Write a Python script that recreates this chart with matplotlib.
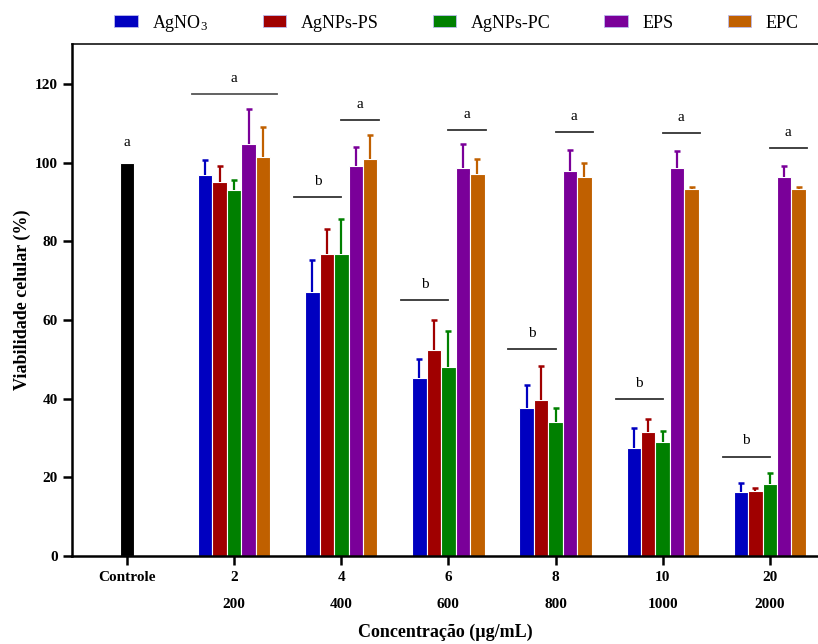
import numpy as np
import matplotlib
matplotlib.use("Agg")
import matplotlib.pyplot as plt
from matplotlib.patches import Patch

plt.rcParams["font.family"] = ["Liberation Serif", "DejaVu Serif"]
plt.rcParams["mathtext.fontset"] = "custom"
plt.rcParams["mathtext.rm"] = "Liberation Serif"
plt.rcParams["mathtext.it"] = "Liberation Serif:italic"

# Daten
grupos = ["2\n200", "4\n400", "6\n600", "8\n800", "10\n1000", "20\n2000"]
series = ["AgNO$_3$", "AgNPs-PS", "AgNPs-PC", "EPS", "EPC"]
cores = ["#0000C0", "#A00000", "#008000", "#7A0099", "#C06000"]

controle = 100.0
controle_letra = "a"

agno3 = [96.9, 67.2, 45.3, 37.7, 27.5, 16.2]
agno3_sd = [3.8, 8.0, 4.7, 5.7, 5.1, 2.3]
agnps_ps = [95.0, 76.9, 52.4, 39.8, 31.6, 16.5]
agnps_ps_sd = [4.3, 6.3, 7.6, 8.4, 3.2, 0.8]
agnps_pc = [93.1, 76.9, 48.1, 34.2, 28.9, 18.4]
agnps_pc_sd = [2.6, 8.8, 9.1, 3.4, 2.8, 2.6]
eps = [104.7, 99.3, 98.6, 98.0, 98.6, 96.4]
eps_sd = [9.0, 4.6, 6.2, 5.2, 4.5, 2.8]
epc = [101.5, 101.0, 97.2, 96.3, 93.4, 93.4]
epc_sd = [7.6, 6.1, 3.7, 3.6, 0.5, 0.5]

valores = [agno3, agnps_ps, agnps_pc, eps, epc]
desvios = [agno3_sd, agnps_ps_sd, agnps_pc_sd, eps_sd, epc_sd]

# Signifikanzlinien: Höhe "b" (AgNO3/AgNPs), Höhe "a" (EPS/EPC)
linha_b = [None, 91.4, 65.0, 52.6, 39.9, 25.3]
linha_a = [117.5, 110.9, 108.4, 107.8, 107.5, 103.7]

fig = plt.figure(figsize=(8.18, 6.44), dpi=100)
ax = fig.add_axes([0.088, 0.1366, 0.912, 0.795])

x = np.arange(1, len(grupos) + 1)
w = 0.135
offs = np.array([-2, -1, 0, 1, 2]) * w

ax.bar(0, controle, width=0.125, color="black", edgecolor="white", linewidth=0.8)
ax.text(0, controle + 3.5, controle_letra, ha="center", va="bottom", fontsize=11)

for i in range(len(series)):
    xs = x + offs[i]
    topo = np.array(valores[i]) + np.array(desvios[i])
    ax.bar(xs, valores[i], width=w, color=cores[i],
           edgecolor="white", linewidth=0.8, label=series[i])
    ax.vlines(xs, valores[i], topo, color=cores[i], lw=1.6)
    ax.plot(xs, topo, ls="none", marker="_", ms=4.5, mew=1.8, color=cores[i])

for j in range(len(grupos)):
    if linha_b[j] is None:
        ax.plot([x[j] - 0.39, x[j] + 0.40], [linha_a[j], linha_a[j]],
                color="#555555", lw=1.3)
        ax.text(x[j], linha_a[j] + 2.3, "a", ha="center", va="bottom", fontsize=11)
    else:
        ax.plot([x[j] - 0.44, x[j]], [linha_b[j], linha_b[j]],
                color="#333333", lw=1.3)
        ax.text(x[j] - 0.22, linha_b[j] + 2.3, "b", ha="center", va="bottom", fontsize=11)
        ax.plot([x[j], x[j] + 0.35], [linha_a[j], linha_a[j]],
                color="#333333", lw=1.3)
        ax.text(x[j] + 0.17, linha_a[j] + 2.3, "a", ha="center", va="bottom", fontsize=11)

ax.set_xlim(-0.514, 6.45)
ax.set_ylim(0, 130.2)
ax.set_yticks(np.arange(0, 121, 20))
ax.set_xticks(np.concatenate([[0], x]))
ax.set_xticklabels(["Controle"] + grupos, fontweight="bold", fontsize=11,
                   linespacing=2.35, va="top")
for lab in ax.get_yticklabels():
    lab.set_fontweight("bold")
    lab.set_fontsize(11)

ax.spines["right"].set_visible(False)
ax.spines["top"].set_linewidth(1.1)
ax.spines["left"].set_linewidth(1.8)
ax.spines["bottom"].set_linewidth(1.8)
ax.tick_params(width=1.8, length=6.5)
ax.tick_params(axis="x", pad=4.5)

ax.set_ylabel("Viabilidade celular (%)", fontweight="bold", fontsize=13, labelpad=3)
ax.set_xlabel("Concentração (µg/mL)", fontweight="bold", fontsize=13, labelpad=9)

handles = [Patch(facecolor=c, edgecolor="#bbbbee", linewidth=0.6) for c in cores]
fig.legend(handles, series, loc="center", bbox_to_anchor=(0.558, 0.964),
           ncol=5, frameon=False, fontsize=13, handlelength=1.3,
           handleheight=0.65, handletextpad=0.8, columnspacing=3.0)

fig.savefig("out.png", dpi=100)
